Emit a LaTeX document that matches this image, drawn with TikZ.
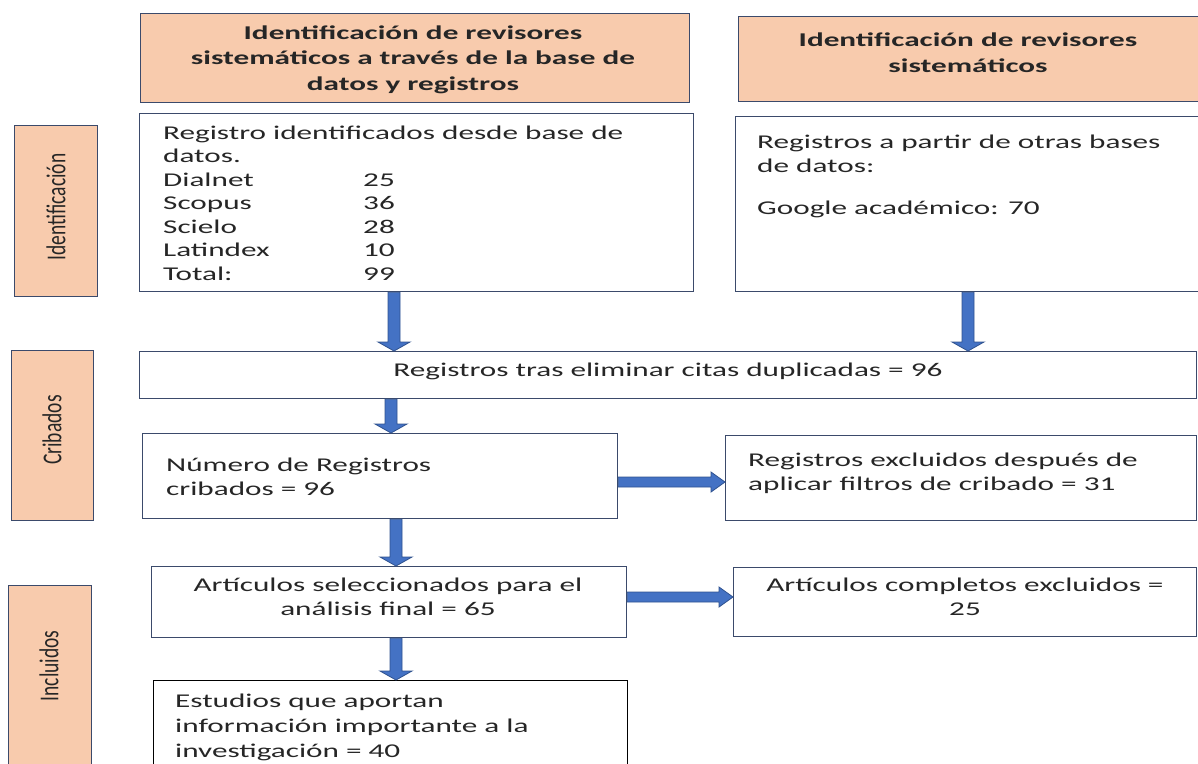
\documentclass[tikz,border=0pt]{standalone}
\usepackage{fontspec}
\setmainfont[FakeStretch=1.6]{Carlito}
\newfontfamily\rotfont{Carlito}
\usetikzlibrary{calc}
\definecolor{peach}{HTML}{F8CBAD}
\definecolor{edge}{HTML}{3B4A6B}
\definecolor{ablue}{HTML}{4472C4}
\definecolor{aedge}{HTML}{2F528F}
\definecolor{txt}{HTML}{262626}
\begin{document}
\begin{tikzpicture}[x=1pt,y=-1pt,
  box/.style={rectangle, draw=edge, line width=1.3pt, fill=white, inner sep=0pt, anchor=north west},
  hdr/.style={box, fill=peach},
  side/.style={box, fill=peach},
  body/.style={text=txt, inner sep=0pt, font=\fontsize{19.5}{23.5}\selectfont},
  hbody/.style={text=txt, inner sep=0pt, align=center, font=\fontsize{19.5}{25.5}\selectfont\bfseries},
  rot/.style={text=txt, inner sep=0pt, rotate=90, font=\rotfont\fontsize{19.5}{23.5}\selectfont},
  darrow/.style={fill=ablue, draw=aedge, line width=0.8pt,
    to path={let \p1=(\tikztostart), \p2=(\tikztotarget) in
      (\x1-6pt,\y1) -- (\x1+6pt,\y1) -- (\x1+6pt,\y2+9pt) -- (\x1+16pt,\y2+9pt) -- (\x1,\y2)
      -- (\x1-16pt,\y2+9pt) -- (\x1-6pt,\y2+9pt) -- cycle}},
  rarrow/.style={fill=ablue, draw=aedge, line width=0.8pt,
    to path={let \p1=(\tikztostart), \p2=(\tikztotarget) in
      (\x1,\y1-5pt) -- (\x2-14pt,\y1-5pt) -- (\x2-14pt,\y1-10pt) -- (\x2,\y1)
      -- (\x2-14pt,\y1+10pt) -- (\x2-14pt,\y1+5pt) -- (\x1,\y1+5pt) -- cycle}}
]
\useasboundingbox (0,0) rectangle (1198,763);

% headers
\node[hdr, minimum width=549pt, minimum height=89pt] (H1) at (140,13) {};
\node[hdr, minimum width=470pt, minimum height=85pt] (H2) at (738,16) {};
\node[hbody, anchor=base] (H1t) at (413,90) {Identificación de revisores\\sistemáticos a través de la base de\\datos y registros};
\node[hbody, anchor=base] (H2t) at (968,72) {Identificación de revisores\\sistemáticos};

% side labels
\node[side, minimum width=83pt, minimum height=171pt] (S1) at (14,125) {};
\node[side, minimum width=82pt, minimum height=170pt] (S2) at (11,350) {};
\node[side, minimum width=83pt, minimum height=200pt] (S3) at (8,585) {};
\node[rot] (S1t) at (56,207) {\scalebox{1}[1.4]{Identificación}};
\node[rot] (S2t) at (52,430) {\scalebox{1}[1.4]{Cribados}};
\node[rot] (S3t) at (49,666) {\scalebox{1}[1.4]{Incluidos}};

% boxes
\node[box, minimum width=554pt, minimum height=178pt] (A) at (139,113) {};
\node[box, minimum width=475pt, minimum height=175pt] (B) at (735,116) {};
\node[box, minimum width=1057pt, minimum height=47pt] (C) at (139,351) {};
\node[box, minimum width=475pt, minimum height=85pt] (D) at (142,433) {};
\node[box, minimum width=471pt, minimum height=85pt] (E) at (725,435) {};
\node[box, minimum width=475pt, minimum height=71pt] (F) at (151,566) {};
\node[box, minimum width=463pt, minimum height=69pt] (G) at (733,567) {};
\node[box, draw=black, minimum width=474pt, minimum height=100pt] (H) at (153,680) {};

% texts
\node[body, anchor=base west] (At) at (163,139) {\begin{tabular}[t]{@{}p{200pt}@{}l@{}}
\multicolumn{2}{@{}l@{}}{Registro identificados desde base de}\\
\multicolumn{2}{@{}l@{}}{datos.}\\
Dialnet & 25\\
Scopus & 36\\
Scielo & 28\\
Latindex & 10\\
Total: & 99
\end{tabular}};
\node[body, anchor=base west, align=left] (Bt) at (757,172) {Registros a partir de otras bases\\de datos:};
\node[body, anchor=base west] (Bg) at (757,214) {Google académico: 70};
\node[body, anchor=base] (Ct) at (668,376) {Registros tras eliminar citas duplicadas = 96};
\node[body, anchor=base west, align=left] (Dt) at (166,495) {Número de Registros\\cribados = 96};
\node[body, anchor=base west, align=left] (Et) at (748,490) {Registros excluidos después de\\aplicar filtros de cribado = 31};
\node[body, anchor=base, align=center] (Ft) at (388,615) {Artículos seleccionados para el\\análisis final = 65};
\node[body, anchor=base, align=center] (Gt) at (965,615) {Artículos completos excluidos =\\25};
\node[body, anchor=base west, align=left, font=\fontsize{19.5}{25}\selectfont] (Ht) at (175,757) {Estudios que aportan\\información importante a la\\investigación = 40};

% arrows
\coordinate (xa) at (394,0);
\coordinate (xb) at (968,0);
\coordinate (xc) at (391,0);
\coordinate (xd) at (396,0);
\coordinate (yde) at (0,482);
\coordinate (yfg) at (0,597);
\draw[darrow] (A.south -| xa) to (C.north -| xa);
\draw[darrow] (B.south -| xb) to (C.north -| xb);
\draw[darrow] (C.south -| xc) to (D.north -| xc);
\draw[darrow] (D.south -| xd) to (F.north -| xd);
\draw[darrow] (F.south -| xd) to (H.north -| xd);
\draw[rarrow] (D.east |- yde) to (E.west |- yde);
\draw[rarrow] (F.east |- yfg) to (G.west |- yfg);
\end{tikzpicture}
\end{document}
